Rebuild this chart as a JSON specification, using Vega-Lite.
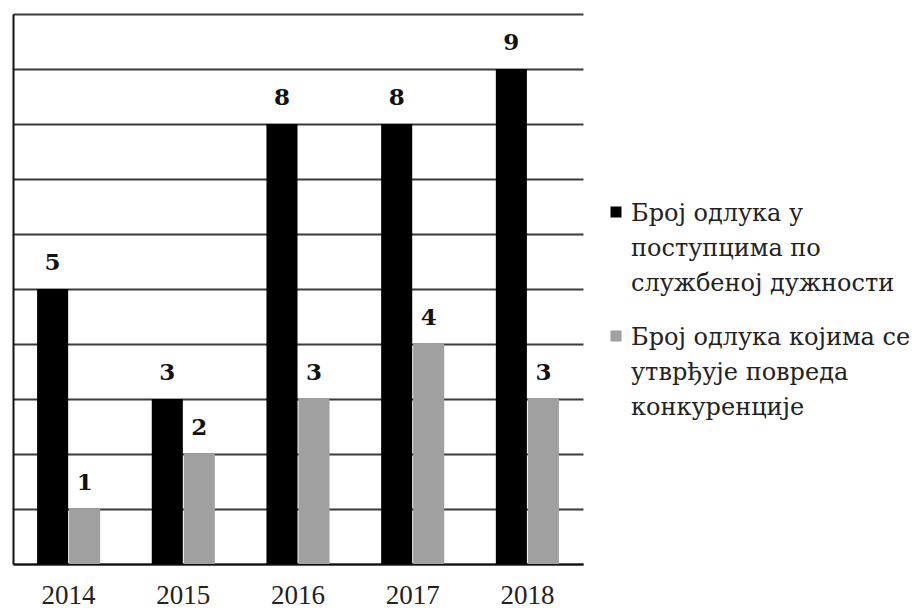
{
  "$schema": "https://vega.github.io/schema/vega-lite/v6.json",
  "width": 570,
  "height": 550,
  "autosize": "none",
  "padding": {"left": 13, "top": 14, "right": 338, "bottom": 46},
  "background": "white",
  "config": {"view": {"stroke": null}},
  "data": {
    "values": [
      {"year": "2014", "series": "A", "value": 5},
      {"year": "2014", "series": "B", "value": 1},
      {"year": "2015", "series": "A", "value": 3},
      {"year": "2015", "series": "B", "value": 2},
      {"year": "2016", "series": "A", "value": 8},
      {"year": "2016", "series": "B", "value": 3},
      {"year": "2017", "series": "A", "value": 8},
      {"year": "2017", "series": "B", "value": 4},
      {"year": "2018", "series": "A", "value": 9},
      {"year": "2018", "series": "B", "value": 3}
    ]
  },
  "encoding": {
    "x": {
      "field": "year",
      "type": "nominal",
      "scale": {"paddingInner": 0.45, "paddingOuter": 0.21},
      "axis": {
        "title": null,
        "labelAngle": 0,
        "ticks": false,
        "domain": true,
        "domainColor": "#111",
        "domainWidth": 2,
        "labelFont": "Liberation Serif",
        "labelFontSize": 27,
        "labelColor": "#222",
        "labelPadding": 18
      }
    },
    "xOffset": {"field": "series", "type": "nominal", "sort": ["A", "B"], "scale": {"paddingInner": 0.03}},
    "y": {
      "field": "value",
      "type": "quantitative",
      "scale": {"domain": [0, 10], "nice": false},
      "axis": {
        "title": null,
        "values": [0, 1, 2, 3, 4, 5, 6, 7, 8, 9, 10],
        "labels": false,
        "ticks": false,
        "domain": true,
        "domainColor": "#111",
        "domainWidth": 2,
        "grid": true,
        "gridColor": "#3a3a3a",
        "gridWidth": 1.8
      }
    }
  },
  "layer": [
    {
      "mark": {"type": "bar"},
      "encoding": {
        "color": {
          "field": "series",
          "type": "nominal",
          "sort": ["A", "B"],
          "scale": {"domain": ["A", "B"], "range": ["#000000", "#a0a0a0"]},
          "legend": {
            "title": null,
            "orient": "none",
            "legendX": 591,
            "legendY": 186,
            "symbolType": "square",
            "symbolSize": 121,
            "symbolStrokeWidth": 0,
            "labelFont": "DejaVu Serif",
            "labelFontSize": 24,
            "labelColor": "#222",
            "labelOffset": 3,
            "labelLimit": 400,
            "labelBaseline": "top",
            "rowPadding": 28,
            "labelExpr": "datum.label == 'A' ? ['Број одлука у', 'поступцима по', 'службеној дужности'] : ['Број одлука којима се', 'утврђује повреда', 'конкуренције']",
            "encode": {
              "labels": {"update": {"lineHeight": {"value": 35}, "dy": {"value": -10}}},
              "symbols": {"update": {"fill": {"signal": "datum.value == 'A' ? '#000000' : '#bcbcbc'"}}}
            }
          }
        }
      }
    },
    {
      "mark": {"type": "text", "dy": -19, "baseline": "alphabetic", "font": "DejaVu Serif", "fontWeight": "bold", "fontSize": 23, "color": "#111"},
      "encoding": {"text": {"field": "value", "type": "quantitative"}}
    }
  ]
}
